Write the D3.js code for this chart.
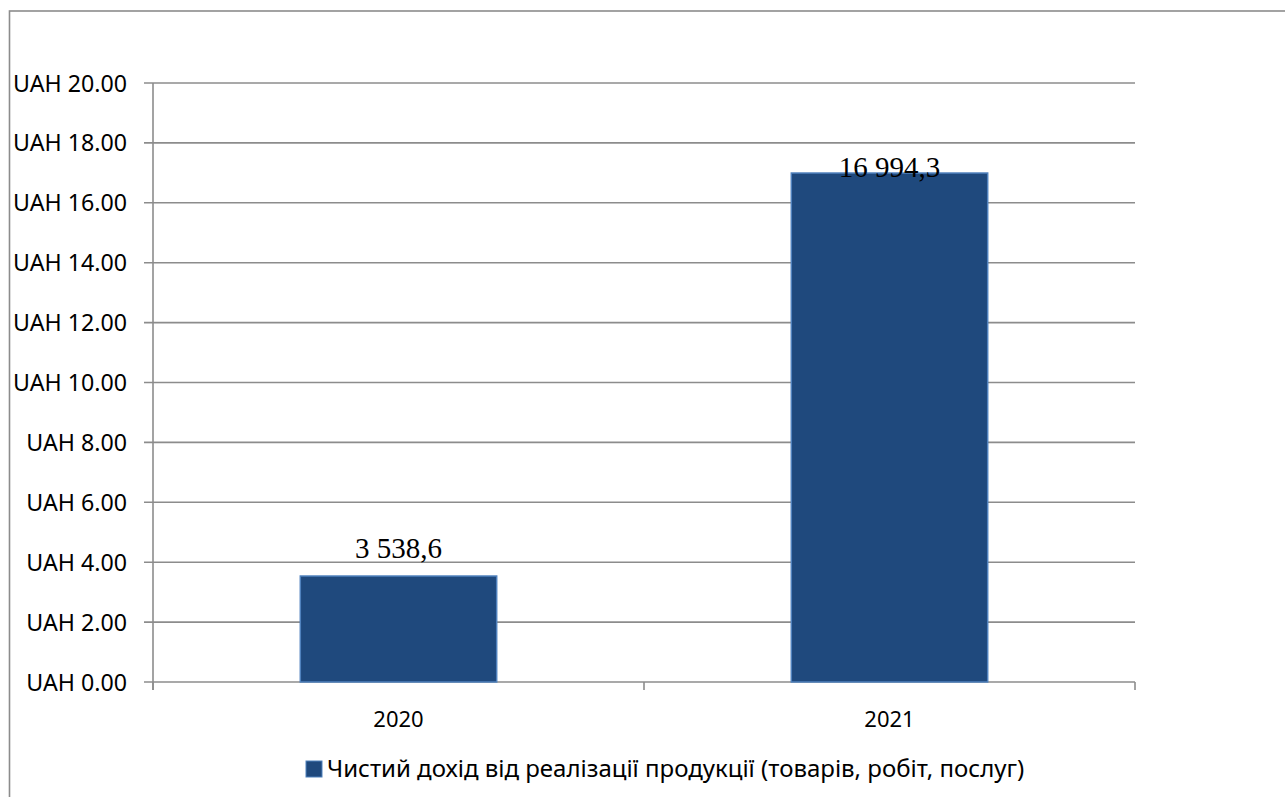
<!DOCTYPE html>
<html>
<head>
<meta charset="utf-8">
<script src="https://cdn.jsdelivr.net/npm/d3@7"></script>
<style>
  body { margin: 0; background: #fff; }
  svg { display: block; }
</style>
</head>
<body>
<svg id="chart" width="1285" height="797"></svg>
<script>
// data (thousand UAH)
const years = ["2020", "2021"];
const revenue = [3.5386, 16.9943];
const valueLabels = ["3 538,6", "16 994,3"];
const yTicks = [0, 2, 4, 6, 8, 10, 12, 14, 16, 18, 20];
const seriesName = "Чистий дохід від реалізації продукції (товарів, робіт, послуг)";

const svg = d3.select("#chart"),
  width = +svg.attr("width"),
  height = +svg.attr("height");

const sans = "'Noto Sans', 'Liberation Sans', Arial, sans-serif";
const grid = "#8c8c8c";

// chart frame (runs past the right and bottom edge)
svg.append("rect")
  .attr("x", 9.5).attr("y", 11)
  .attr("width", width + 20).attr("height", height + 20)
  .attr("fill", "none")
  .attr("stroke", grid)
  .attr("stroke-width", 1.6);

const plotL = 153, plotR = 1135, plotT = 83, plotB = 682;

const y = d3.scaleLinear().domain([0, 20]).range([plotB, plotT]);
const x = d3.scaleBand().domain(years).range([plotL, plotR]).paddingInner(0).paddingOuter(0);

// gridlines
svg.append("g")
  .selectAll("line")
  .data(yTicks)
  .join("line")
    .attr("x1", plotL - 9).attr("x2", plotR)
    .attr("y1", d => y(d)).attr("y2", d => y(d))
    .attr("stroke", grid)
    .attr("stroke-width", 1.6);

// y axis line
svg.append("line")
  .attr("x1", plotL).attr("x2", plotL)
  .attr("y1", plotT).attr("y2", plotB + 8)
  .attr("stroke", grid).attr("stroke-width", 1.6);

// y labels
svg.append("g")
  .selectAll("text")
  .data(yTicks)
  .join("text")
    .attr("x", 127)
    .attr("y", d => y(d) + 8.5)
    .attr("text-anchor", "end")
    .style("font-family", sans)
    .style("font-size", "23.2px")
    .style("fill", "#000")
    .text(d => "UAH " + d.toFixed(2));

// x ticks
const xEdges = [plotL].concat(years.map(d => x(d) + x.bandwidth()));
svg.append("g")
  .selectAll("line")
  .data(xEdges)
  .join("line")
    .attr("x1", d => d).attr("x2", d => d)
    .attr("y1", plotB).attr("y2", plotB + 8)
    .attr("stroke", grid).attr("stroke-width", 1.6);

svg.append("g")
  .selectAll("text")
  .data(years)
  .join("text")
    .attr("x", d => x(d) + x.bandwidth() / 2)
    .attr("y", plotB + 45)
    .attr("text-anchor", "middle")
    .style("font-family", sans)
    .style("font-size", "22px")
    .text(d => d);

// bars
const barW = x.bandwidth() * 0.4;
svg.append("g")
  .selectAll("rect")
  .data(revenue)
  .join("rect")
    .attr("x", (d, i) => x(years[i]) + (x.bandwidth() - barW) / 2)
    .attr("y", d => y(d))
    .attr("width", barW)
    .attr("height", d => plotB - y(d))
    .attr("fill", "#1f497d")
    .attr("stroke", "#4f81bd")
    .attr("stroke-width", 1.5);

// value labels
const labelDy = [-18, 4];
svg.append("g")
  .selectAll("text")
  .data(revenue)
  .join("text")
    .attr("x", (d, i) => x(years[i]) + x.bandwidth() / 2)
    .attr("y", (d, i) => y(d) + labelDy[i])
    .attr("text-anchor", "middle")
    .style("font-family", "'Liberation Serif', 'Times New Roman', serif")
    .style("font-size", "29px")
    .style("fill", "#000")
    .text((d, i) => valueLabels[i]);

// legend
const legend = svg.append("g").attr("transform", "translate(306,761)");
legend.append("rect")
  .attr("width", 16).attr("height", 16)
  .attr("fill", "#1f497d")
  .attr("stroke", "#4f81bd").attr("stroke-width", 1);
legend.append("text")
  .attr("x", 21).attr("y", 16)
  .style("font-family", sans)
  .style("font-size", "24px")
  .text(seriesName);
</script>
</body>
</html>
